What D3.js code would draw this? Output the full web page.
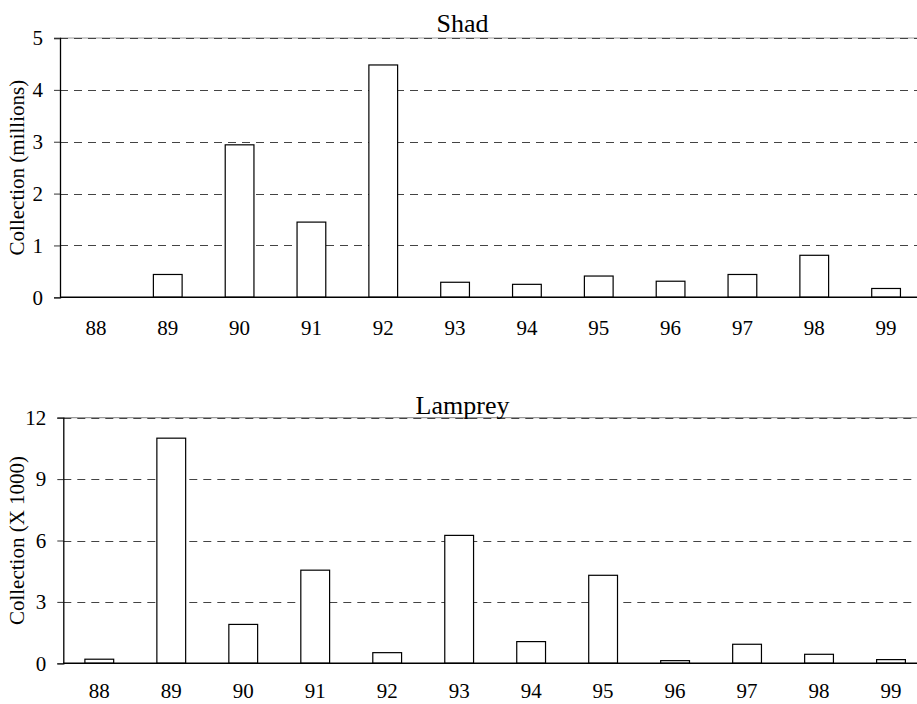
<!DOCTYPE html>
<html>
<head>
<meta charset="utf-8">
<script src="https://cdn.jsdelivr.net/npm/d3@7"></script>
</head>
<body style="margin:0;padding:0;background:#fff">
<script>
// ---- data ----
const years = ["88", "89", "90", "91", "92", "93", "94", "95", "96", "97", "98", "99"];
const shadValues = [0, 0.44, 2.94, 1.45, 4.48, 0.29, 0.25, 0.41, 0.31, 0.44, 0.81, 0.17];
const lampreyValues = [0.2, 11.0, 1.9, 4.55, 0.52, 6.25, 1.06, 4.3, 0.13, 0.93, 0.44, 0.18];
const shadTicks = [0, 1, 2, 3, 4, 5];
const lampreyTicks = [0, 3, 6, 9, 12];

const FONT = "Liberation Serif";
const W = 917, H = 704;
const svg = d3.select("body").append("svg").attr("width", W).attr("height", H)
  .attr("font-family", FONT)
  .style("display", "block");

function panel(cfg) {
  const g = svg.append("g");
  const x = d3.scaleBand().domain(years).range([cfg.left, cfg.right])
    .paddingInner(0.6).paddingOuter(0.3);
  const y = d3.scaleLinear().domain([0, cfg.max]).range([cfg.bottom, cfg.top]);

  // top frame line (solid light)
  g.append("line")
    .attr("x1", cfg.left).attr("x2", W)
    .attr("y1", y(cfg.max)).attr("y2", y(cfg.max))
    .attr("stroke", "#999").attr("stroke-width", 1.2);

  // dashed gridlines
  g.selectAll(".grid").data(cfg.ticks.filter(t => t > 0)).enter().append("line")
    .attr("x1", cfg.left).attr("x2", W)
    .attr("y1", d => Math.round(y(d)) + 0.5).attr("y2", d => Math.round(y(d)) + 0.5)
    .attr("stroke", "#444").attr("stroke-width", 1)
    .attr("stroke-dasharray", "8,6");

  // bars
  g.selectAll(".bar").data(cfg.values).enter().append("rect")
    .attr("x", (d, i) => x(years[i]))
    .attr("y", d => y(d))
    .attr("width", x.bandwidth())
    .attr("height", d => y(0) - y(d))
    .attr("fill", "#fff").attr("stroke", "#000").attr("stroke-width", 1.2);

  // y axis
  const ya = g.append("g").attr("transform", `translate(${cfg.left},0)`)
    .call(d3.axisLeft(y).tickValues(cfg.ticks).tickSize(6).tickPadding(11).tickFormat(d3.format("d")));
  ya.attr("font-family", FONT).attr("font-size", 21);
  ya.select(".domain").attr("stroke", "#000").attr("stroke-width", 1.3);
  ya.selectAll(".tick line").attr("stroke", "#333");

  // x baseline
  g.append("line")
    .attr("x1", cfg.left).attr("x2", W)
    .attr("y1", y(0)).attr("y2", y(0))
    .attr("stroke", "#000").attr("stroke-width", 1.5);

  // x axis labels
  const xa = g.append("g").attr("transform", `translate(0,${y(0)})`)
    .call(d3.axisBottom(x).tickSize(0).tickPadding(cfg.xPad));
  xa.attr("font-family", FONT).attr("font-size", 21);
  xa.select(".domain").remove();

  // title
  g.append("text")
    .attr("x", 462.5).attr("y", cfg.titleY)
    .attr("text-anchor", "middle")
    .attr("font-size", 26)
    .text(cfg.title);

  // y label
  g.append("text")
    .attr("transform", `translate(24,${(cfg.top + cfg.bottom) / 2}) rotate(-90)`)
    .attr("text-anchor", "middle")
    .attr("font-size", 21)
    .text(cfg.ylabel);
}

panel({ left: 60, right: 922, top: 38, bottom: 297.3, max: 5, ticks: shadTicks, xPad: 23,
        values: shadValues, title: "Shad", titleY: 32, ylabel: "Collection (millions)" });
panel({ left: 63.3, right: 927, top: 417.7, bottom: 663.3, max: 12, ticks: lampreyTicks, xPad: 20,
        values: lampreyValues, title: "Lamprey", titleY: 414, ylabel: "Collection (X 1000)" });

svg.selectAll("text").attr("font-family", FONT).style("font-family", FONT).attr("fill", "#000");
</script>
</body>
</html>
